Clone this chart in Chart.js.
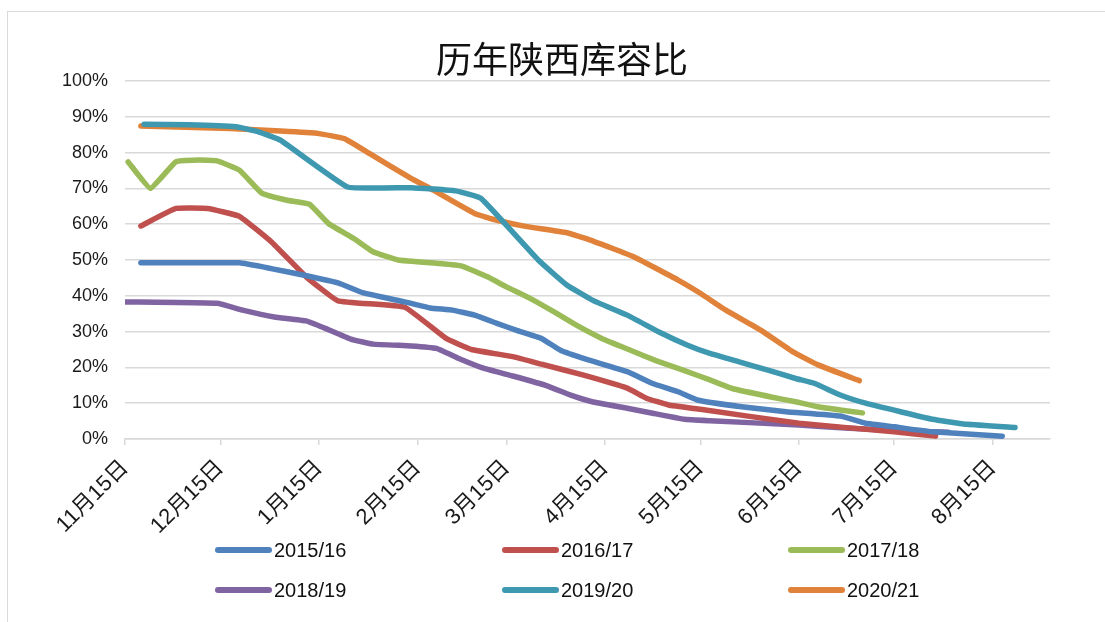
<!DOCTYPE html>
<html>
<head>
<meta charset="utf-8">
<script src="https://cdn.jsdelivr.net/npm/chart.js@4.4.1/dist/chart.umd.min.js"></script>
<style>
  body { margin: 0; background: #fff; }
  #wrap { position: relative; width: 1105px; height: 622px; overflow: hidden; }
  #frame { position: absolute; left: 7px; top: 11px; width: 1120px; height: 640px; border: 1px solid #d9d9d9; }
  #title { position: absolute; left: 0; top: 33px; width: 1124px; text-align: center;
           font: 36px "Noto Sans CJK SC", sans-serif; color: #111; line-height: 48px; }
  canvas { position: absolute; left: 0; top: 0; }
  .leg { position: absolute; display: flex; align-items: center; font: 20px "Liberation Sans", sans-serif; color: #111; }
  .leg span.ln { display: inline-block; width: 57px; height: 6px; border-radius: 3px; margin-right: 2px; }
</style>
</head>
<body>
<div id="wrap">
  <div id="frame"></div>
  <canvas id="chart" width="1105" height="622"></canvas>
  <div id="title">历年陕西库容比</div>
  <div id="legend"></div>
</div>
<script>
// x values are days after 11月15日
const tickDays = [0, 30, 61, 92, 120, 151, 181, 212, 242, 273];
const tickLabels = ['11月15日', '12月15日', '1月15日', '2月15日', '3月15日', '4月15日', '5月15日', '6月15日', '7月15日', '8月15日'];

const seasons = ['2015/16', '2016/17', '2017/18', '2018/19', '2019/20', '2020/21'];
const colors = ['#4f81bd', '#c0504d', '#9bbb59', '#8064a2', '#3e98b0', '#e0823a'];

const days1516 = [5, 36, 46, 56, 67, 75, 88, 96, 103, 110, 117, 123, 131, 137, 145, 158, 166, 174, 180, 194, 208, 225, 233, 242, 254, 276];
const vals1516 = [49.2, 49.2, 47.6, 45.8, 43.6, 40.8, 38.3, 36.6, 36, 34.6, 32.3, 30.4, 28.1, 24.8, 22.3, 18.8, 15.5, 13.2, 10.9, 9, 7.6, 6.4, 4.4, 3.4, 2, 0.8];

const days1617 = [5, 16, 26, 36, 46, 57, 67, 88, 101, 109, 122, 131, 144, 158, 164, 171, 181, 212, 242, 255];
const vals1617 = [59.5, 64.4, 64.4, 62.2, 55.1, 45.3, 38.6, 36.8, 28.1, 25, 23, 20.9, 17.9, 14.2, 11.4, 9.5, 8.3, 4.4, 2, 0.8];

const days1718 = [1, 8, 16, 23, 29, 36, 43, 51, 58, 64, 72, 78, 86, 99, 106, 114, 120, 127, 135, 142, 150, 159, 167, 176, 184, 191, 204, 211, 218, 225, 232];
const vals1718 = [77.4, 70, 77.4, 77.9, 77.7, 75.1, 68.7, 66.7, 65.6, 60.2, 56, 52.3, 50, 49, 48.3, 45.3, 42.5, 39.5, 35.5, 31.8, 28.1, 24.8, 21.9, 19.1, 16.5, 14.1, 11.6, 10.4, 9, 8.1, 7.3];

const days1819 = [0, 29, 37, 47, 57, 63, 71, 78, 90, 98, 105, 113, 122, 133, 140, 147, 158, 166, 176, 184, 212, 228, 244, 259];
const vals1819 = [38.3, 37.9, 36, 34.1, 33, 30.9, 27.9, 26.5, 26, 25.3, 22.5, 19.7, 17.6, 14.8, 12.3, 10.4, 8.6, 7.2, 5.5, 5.1, 3.9, 3, 2.3, 1.9];

const days1920 = [6, 20, 35, 42, 49, 70, 90, 104, 112, 130, 139, 147, 158, 168, 177, 184, 193, 202, 211, 217, 225, 233, 244, 254, 265, 280];
const vals1920 = [87.9, 87.8, 87.2, 85.8, 83.4, 70.4, 70.2, 69.3, 67.2, 50, 43, 38.8, 34.6, 29.9, 26.2, 23.9, 21.6, 19.3, 16.9, 15.5, 12.3, 10, 7.6, 5.5, 4.1, 3.2];

const days2021 = [5, 33, 49, 61, 69, 77, 90, 97, 110, 117, 126, 139, 146, 160, 174, 181, 189, 200, 210, 218, 231];
const vals2021 = [87.4, 86.7, 86, 85.3, 83.9, 79.7, 72.8, 69.5, 63, 61.1, 59.4, 57.6, 55.7, 50.9, 44.4, 40.7, 36, 30.4, 24.4, 20.7, 16.3];

const allDays = [days1516, days1617, days1718, days1819, days1920, days2021];
const allVals = [vals1516, vals1617, vals1718, vals1819, vals1920, vals2021];

const datasets = seasons.map((s, i) => ({
  label: s,
  data: allDays[i].map((d, j) => ({ x: d, y: allVals[i][j] })),
  borderColor: colors[i],
  backgroundColor: colors[i],
  borderWidth: 5.5,
  borderJoinStyle: 'round',
  borderCapStyle: 'round',
  pointRadius: 0,
  tension: 0.1
}));

const tickFont = { family: '"Liberation Sans", "Noto Sans CJK SC", sans-serif', size: 18 };

new Chart(document.getElementById('chart'), {
  type: 'line',
  data: { datasets },
  options: {
    responsive: false,
    animation: false,
    layout: { padding: { left: 0, right: 55, top: 81, bottom: 73 } },
    plugins: { legend: { display: false }, tooltip: { enabled: false } },
    scales: {
      x: {
        type: 'linear',
        min: 0,
        max: 291,
        afterBuildTicks: scale => { scale.ticks = tickDays.map(v => ({ value: v })); },
        afterFit: scale => { scale.height = 110; },
        grid: { drawOnChartArea: false, drawTicks: true, tickLength: 6, color: '#d9d9d9', lineWidth: 1.5 },
        border: { display: true, color: '#d9d9d9', width: 1.5 },
        ticks: {
          font: { family: tickFont.family, size: 22 },
          color: '#1a1a1a',
          minRotation: 45,
          maxRotation: 45,
          padding: 10,
          autoSkip: false,
          callback: v => tickLabels[tickDays.indexOf(v)]
        }
      },
      y: {
        min: 0,
        max: 100,
        afterFit: scale => { scale.width = 125; },
        grid: { color: '#d9d9d9', lineWidth: 1.5, drawTicks: false },
        border: { display: false },
        ticks: {
          stepSize: 10,
          font: tickFont,
          color: '#1a1a1a',
          padding: 17,
          callback: v => v + '%'
        }
      }
    }
  }
});

// legend in three columns, two rows
const legend = document.getElementById('legend');
const colX = [215, 502, 788];
const rowY = [550, 590];
seasons.forEach((s, i) => {
  const item = document.createElement('div');
  item.className = 'leg';
  item.style.left = colX[i % 3] + 'px';
  item.style.top = (rowY[Math.floor(i / 3)] - 12) + 'px';
  item.style.height = '24px';
  item.innerHTML = `<span class="ln" style="background:${colors[i]}"></span>${s}`;
  legend.appendChild(item);
});
</script>
</body>
</html>
